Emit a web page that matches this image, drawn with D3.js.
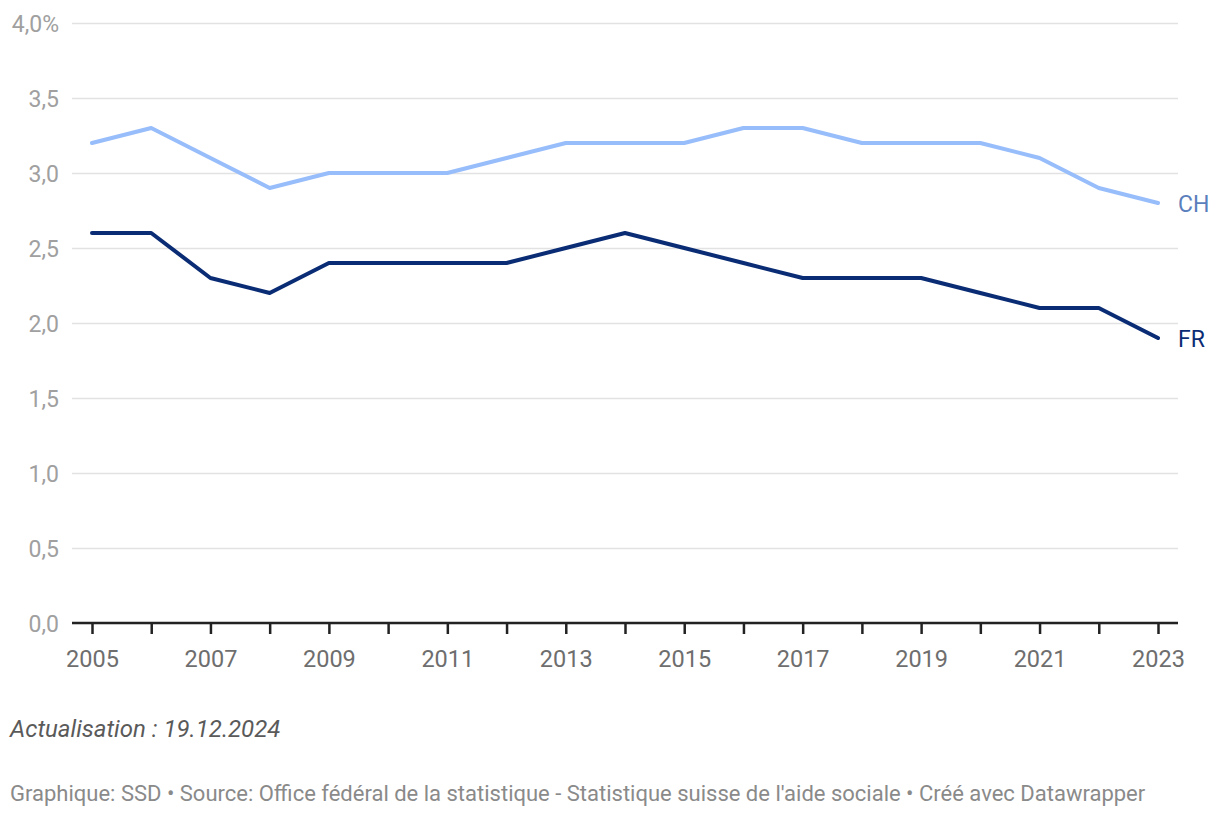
<!DOCTYPE html>
<html>
<head>
<meta charset="utf-8">
<script src="https://cdn.jsdelivr.net/npm/d3@7"></script>
<style>
  body { margin: 0; background: #fff; font-family: Roboto, sans-serif; }
  #chart svg { display: block; }
</style>
</head>
<body>
<div id="chart"></div>
<script>
// data
var years = [2005, 2006, 2007, 2008, 2009, 2010, 2011, 2012, 2013, 2014, 2015, 2016, 2017, 2018, 2019, 2020, 2021, 2022, 2023];
var chValues = [3.2, 3.3, 3.1, 2.9, 3.0, 3.0, 3.0, 3.1, 3.2, 3.2, 3.2, 3.3, 3.3, 3.2, 3.2, 3.2, 3.1, 2.9, 2.8];
var frValues = [2.6, 2.6, 2.3, 2.2, 2.4, 2.4, 2.4, 2.4, 2.5, 2.6, 2.5, 2.4, 2.3, 2.3, 2.3, 2.2, 2.1, 2.1, 1.9];
var yTicks = [0, 0.5, 1.0, 1.5, 2.0, 2.5, 3.0, 3.5, 4.0];
var xLabelYears = [2005, 2007, 2009, 2011, 2013, 2015, 2017, 2019, 2021, 2023];

var svgWidth = 1220;
var svgHeight = 816;

var svg = d3.select("#chart")
  .append("svg")
  .attr("width", svgWidth)
  .attr("height", svgHeight);

var plotLeft = 72, plotRight = 1178;

var x = d3.scaleLinear()
  .domain([2005, 2023])
  .range([92, 1158]);

var y = d3.scaleLinear()
  .domain([0, 4])
  .range([623, 23]);

// gridlines + y labels
var yAxis = d3.axisLeft(y)
  .tickValues(yTicks)
  .tickSize(-(plotRight - plotLeft))
  .tickFormat(function(d) {
    var s = d3.format(".1f")(d).replace(".", ",");
    return d === 4 ? s + "%" : s;
  });

var gy = svg.append("g")
  .attr("transform", "translate(" + plotLeft + ",0)")
  .call(yAxis);
gy.select(".domain").remove();
gy.selectAll(".tick line")
  .attr("stroke", "#e2e2e2")
  .attr("stroke-width", 1.5);
gy.selectAll(".tick text")
  .attr("fill", "#a0a0a0")
  .attr("font-size", "23px")
  .attr("font-family", "Roboto, sans-serif")
  .attr("dy", "0.35em")
  .attr("text-anchor", "end")
  .attr("x", -13);

// x axis
var xAxis = d3.axisBottom(x)
  .tickValues(years)
  .tickSize(11)
  .tickPadding(16)
  .tickFormat(function(d) { return xLabelYears.indexOf(d) >= 0 ? d : ""; });

var gx = svg.append("g")
  .attr("transform", "translate(0," + y(0) + ")")
  .call(xAxis);
gx.select(".domain").remove();
gx.append("line")
  .attr("x1", plotLeft).attr("x2", plotRight)
  .attr("y1", 0).attr("y2", 0)
  .attr("stroke", "#222").attr("stroke-width", 2.5);
gx.selectAll(".tick line").attr("stroke", "#222").attr("stroke-width", 2.5);
gx.selectAll(".tick text")
  .attr("fill", "#6e6e6e")
  .attr("font-size", "23.5px")
  .attr("font-family", "Roboto, sans-serif");

// lines
var line = d3.line()
  .x(function(d, i) { return x(years[i]); })
  .y(function(d) { return y(d); });

var series = [
  { name: "CH", values: chValues, color: "#98bdfb", labelColor: "#5b7fbd" },
  { name: "FR", values: frValues, color: "#0a2c74", labelColor: "#0a2c74" }
];

series.forEach(function(s) {
  svg.append("path")
    .datum(s.values)
    .attr("d", line)
    .attr("fill", "none")
    .attr("stroke", s.color)
    .attr("stroke-width", 4)
    .attr("stroke-linejoin", "round")
    .attr("stroke-linecap", "round");

  svg.append("text")
    .attr("x", x(2023) + 20)
    .attr("y", y(s.values[s.values.length - 1]) + 1)
    .attr("dy", "0.35em")
    .attr("fill", s.labelColor)
    .attr("font-size", "23px")
    .attr("font-family", "Roboto, sans-serif")
    .text(s.name);
});

// notes
svg.append("text")
  .attr("x", 10)
  .attr("y", 737)
  .attr("font-size", "24px")
  .attr("font-style", "italic")
  .attr("fill", "#5a5a5a")
  .attr("font-family", "Roboto, sans-serif")
  .text("Actualisation : 19.12.2024");

svg.append("text")
  .attr("x", 10)
  .attr("y", 801)
  .attr("font-size", "22px")
  .attr("fill", "#8a8a8a")
  .attr("font-family", "Roboto, sans-serif")
  .text("Graphique: SSD \u2022 Source: Office f\u00e9d\u00e9ral de la statistique - Statistique suisse de l'aide sociale \u2022 Cr\u00e9\u00e9 avec Datawrapper");
</script>
</body>
</html>
